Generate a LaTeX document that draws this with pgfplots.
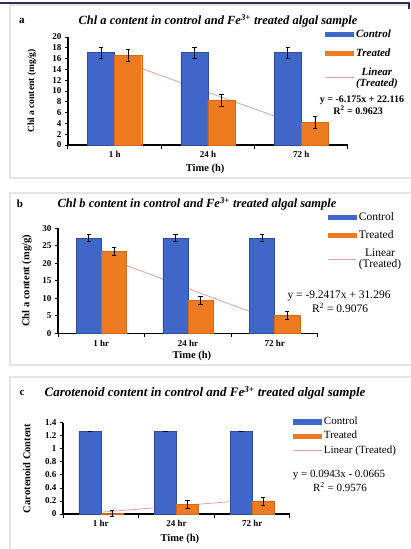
\documentclass[border=0pt]{standalone}
\usepackage{fontspec}
\setmainfont{Liberation Serif}
\usepackage{pgfplots}
\pgfplotsset{compat=1.18}
\definecolor{cblue}{HTML}{3F66C9}
\definecolor{corange}{HTML}{EE7A22}
\definecolor{ctrend}{HTML}{D9A3A0}
\definecolor{cframe}{HTML}{E2E4E8}
\definecolor{cnavy}{HTML}{2B2F5A}
\pgfplotsset{
  panel/.style={
    scale only axis, anchor=south west, clip=false,
    xmin=-0.5, xmax=2.5, ymin=0,
    axis x line*=bottom, axis y line*=left,
    axis line style={-, line width=1.1pt, black},
    xtick={0,1,2}, major x tick style={draw=none},
    minor xtick={-0.5,0.5,1.5,2.5},
    minor x tick style={black, line width=1pt},
    minor tick length=4pt,
    ytick style={black, line width=0.8pt}, major tick length=3pt,
    tick align=outside,
    /pgf/number format/assume math mode=true,
    ticklabel style={font=\bfseries\fontsize{9}{10}\selectfont, text=black},
    xlabel={Time (h)},
    label style={font=\bfseries\fontsize{10.5}{11}\selectfont, anchor=center},
    legend style={draw=none, fill=none, anchor=north west, inner sep=0pt,
      legend cell align=left},
  },
  barc/.style={ybar, bar width=0.29, bar shift=0, fill=cblue, draw=cblue!75!black,
    legend image code/.code={\fill[cblue] (0pt,-2.2pt) rectangle (28pt,2.2pt);}},
  bart/.style={ybar, bar width=0.29, bar shift=0, fill=corange, draw=corange!85!black,
    legend image code/.code={\fill[corange] (0pt,-2.2pt) rectangle (28pt,2.2pt);}},
  trend/.style={ctrend, line width=0.8pt, no marks,
    legend image code/.code={\draw[ctrend, line width=0.8pt] (0pt,0pt) -- (28pt,0pt);}},
  eb/.style={error bars/.cd, y dir=both, y explicit,
    error bar style={black, line width=0.6pt},
    error mark options={rotate=90, mark size=2.2pt, black, line width=0.6pt}},
}
\begin{document}
\begin{tikzpicture}[x=1pt,y=1pt]
\useasboundingbox (0,0) rectangle (411,549);
\clip (0,0) rectangle (411,549);
\fill[white] (0,0) rectangle (411,549);
% frames
\draw[cframe, line width=1.2pt] (10,371) rectangle (418,544);
\draw[cframe, line width=1.2pt] (10,184) rectangle (418,356);
\draw[cframe, line width=1.2pt] (10,-5) rectangle (418,172);
\draw[cnavy, line width=1.2pt] (0,546) -- (409,546) -- (409,540);
% titles
\node[font=\bfseries\itshape\fontsize{12.5}{13}\selectfont] at (218,528) {Chl a content in control and Fe\textsuperscript{3+} treated algal sample};
\node[font=\bfseries\fontsize{11}{12}\selectfont] at (22,528) {a};
\node[font=\bfseries\itshape\fontsize{12.5}{13}\selectfont] at (197,345) {Chl b content in control and Fe\textsuperscript{3+} treated algal sample};
\node[font=\bfseries\fontsize{11}{12}\selectfont] at (20,345) {b};
\node[font=\bfseries\itshape\fontsize{13}{14}\selectfont] at (205,156) {Carotenoid content in control and Fe\textsuperscript{3+} treated algal sample};
\node[font=\bfseries\fontsize{11}{12}\selectfont] at (22,156) {c};

% ---------- panel a
\begin{axis}[panel, at={(68pt,404pt)}, width=280pt, height=108pt,
  ymax=20, ytick={0,2,...,20}, xticklabels={1 h,24 h,72 h},
  ylabel={Chl a content (mg/g)},
  ylabel style={font=\bfseries\fontsize{9.5}{10}\selectfont},
  xlabel style={at={(axis description cs:0.49,-0.222)}},
  ylabel style={at={(axis description cs:-0.129,0.5)}},
  legend style={at={(axis description cs:0.918,1.09)},
    font=\bfseries\itshape\fontsize{11}{12}\selectfont, row sep=6pt},
]
\addplot[trend, forget plot] coordinates {(0,15.941) (1,9.766) (2,3.591)};
\addplot[barc, eb] coordinates {(-0.145,17.1) +- (0,1.0) (0.855,17.1) +- (0,1.0) (1.855,17.1) +- (0,1.0)};
\addlegendentry{Control}
\addplot[bart, eb] coordinates {(0.145,16.6) +- (0,1.1) (1.145,8.3) +- (0,1.1) (2.145,4.2) +- (0,1.2)};
\addlegendentry{Treated}
\addlegendimage{trend}
\addlegendentry{\shortstack{Linear\\(Treated)}}
\node[font=\bfseries\fontsize{10}{11}\selectfont] at (axis description cs:1.05,0.417) {y = -6.175x + 22.116};
\node[font=\bfseries\fontsize{10}{11}\selectfont] at (axis description cs:1.036,0.324) {R\textsuperscript{2} = 0.9623};
\end{axis}

% ---------- panel b
\begin{axis}[panel, at={(58pt,215.7pt)}, width=260pt, height=105pt,
  ymax=30, ytick={0,5,...,30}, xticklabels={1 hr,24 hr,72 hr},
  ylabel={Chl a content (mg/g)},
  xlabel style={at={(axis description cs:0.515,-0.22)}},
  ylabel style={at={(axis description cs:-0.12,0.5)}},
  legend style={at={(axis description cs:1.038,1.174)},
    font=\fontsize{11.5}{12.5}\selectfont, row sep=5pt},
]
\addplot[trend, forget plot] coordinates {(0,22.054) (1,12.813) (2,3.571)};
\addplot[barc, eb] coordinates {(-0.145,27.2) +- (0,1.0) (0.855,27.2) +- (0,1.0) (1.855,27.2) +- (0,1.0)};
\addlegendentry{Control}
\addplot[bart, eb] coordinates {(0.145,23.4) +- (0,1.2) (1.145,9.4) +- (0,1.2) (2.145,5.2) +- (0,1.1)};
\addlegendentry{Treated}
\addlegendimage{trend}
\addlegendentry{\shortstack{Linear\\(Treated)}}
\node[font=\fontsize{11.5}{12}\selectfont] at (axis description cs:1.081,0.355) {y = -9.2417x + 31.296};
\node[font=\fontsize{11.5}{12}\selectfont] at (axis description cs:1.085,0.24) {R\textsuperscript{2} = 0.9076};
\end{axis}

% ---------- panel c
\begin{axis}[panel, at={(63pt,35pt)}, width=227pt, height=91.3pt,
  ymax=1.4, ytick={0,0.2,...,1.4}, xticklabels={1 hr,24 hr,72 hr},
  ylabel={Carotenoid Content},
  xlabel style={at={(axis description cs:0.515,-0.27)}},
  ylabel style={at={(axis description cs:-0.16,0.5)}},
  legend style={at={(axis description cs:1.013,1.084)},
    font=\fontsize{11}{12}\selectfont, row sep=1pt},
]
\addplot[trend, forget plot] coordinates {(0,0.0278) (1,0.1221) (2,0.2164)};
\addplot[barc, eb] coordinates {(-0.145,1.27) +- (0,0.005) (0.855,1.27) +- (0,0.005) (1.855,1.27) +- (0,0.005)};
\addlegendentry{Control}
\addplot[bart, eb] coordinates {(0.145,0.01) +- (0,0.04) (1.145,0.15) +- (0,0.06) (2.145,0.2) +- (0,0.06)};
\addlegendentry{Treated}
\addlegendimage{trend}
\addlegendentry{Linear (Treated)}
\node[font=\fontsize{11}{12}\selectfont] at (axis description cs:1.216,0.427) {y = 0.0943x - 0.0665};
\node[font=\fontsize{11}{12}\selectfont] at (axis description cs:1.22,0.296) {R\textsuperscript{2} = 0.9576};
\end{axis}
\end{tikzpicture}
\end{document}
